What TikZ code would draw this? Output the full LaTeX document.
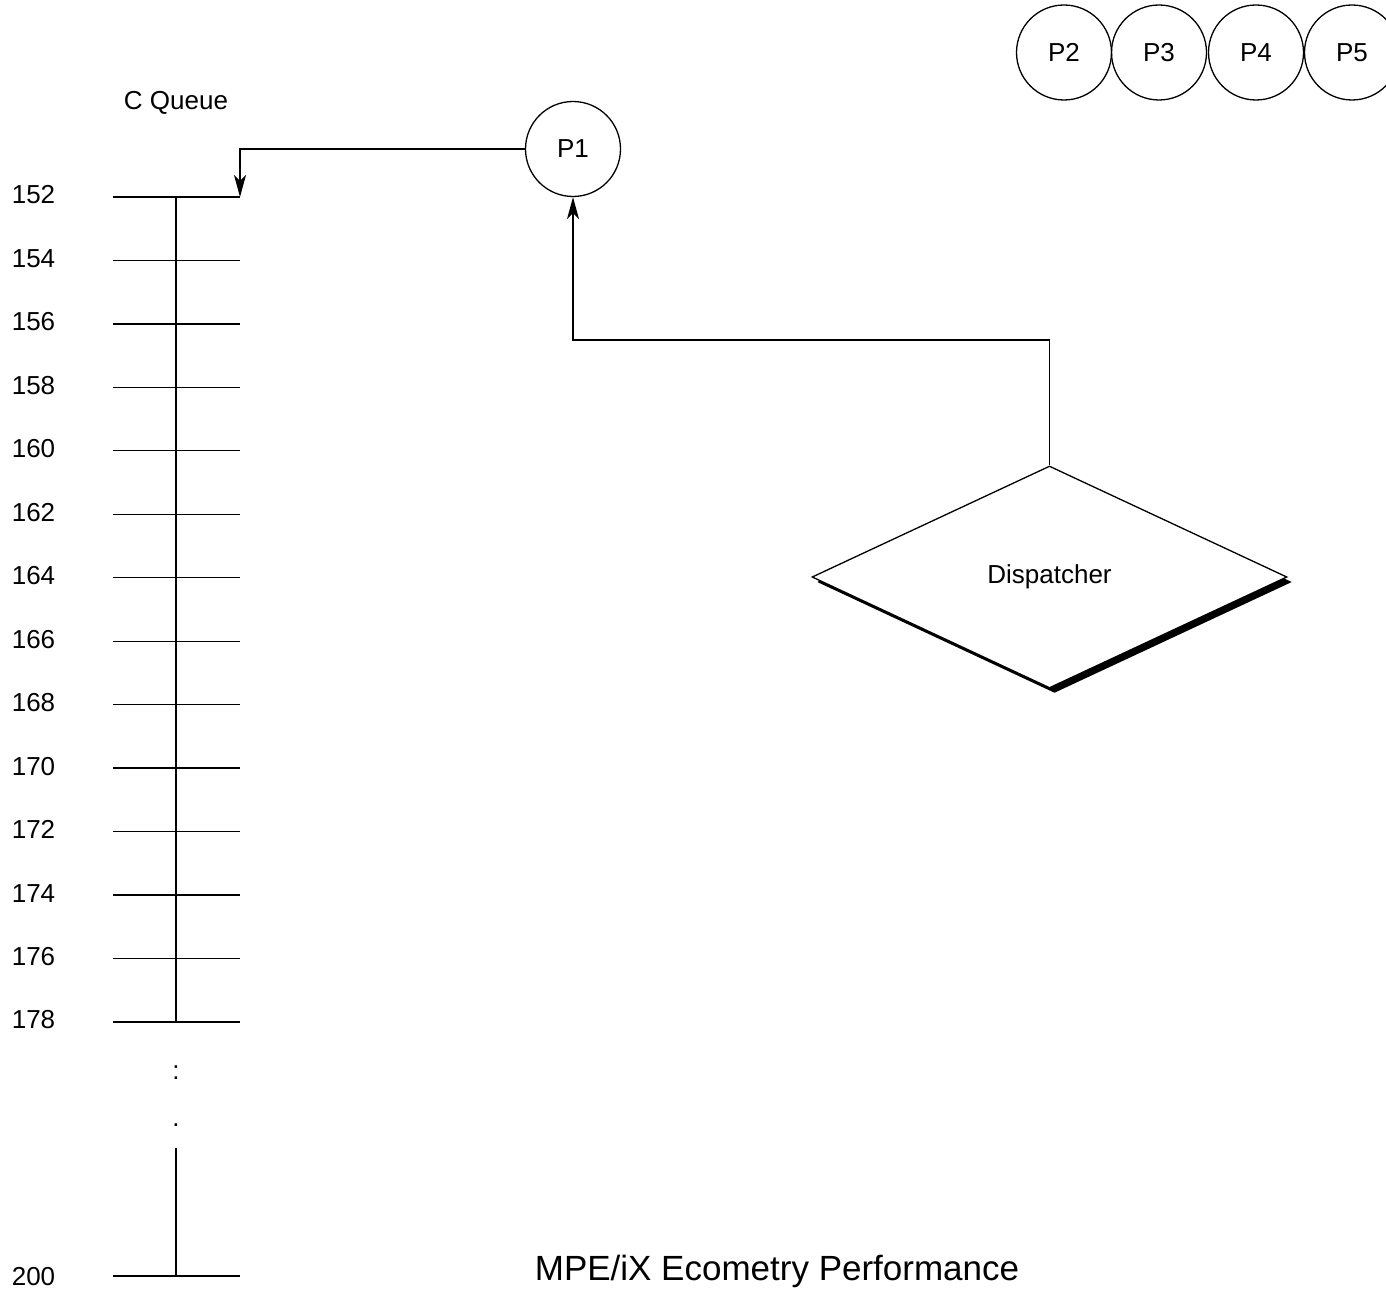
\documentclass[tikz,border=0pt]{standalone}
\usepackage{fontspec}
\setmainfont{Liberation Sans}
\usetikzlibrary{arrows.meta,shapes.geometric}
\begin{document}
\begin{tikzpicture}[x=1pt,y=-1pt,line width=1.3pt,
  lbl/.style={font=\fontsize{26}{31}\selectfont, inner sep=0pt},
  proc/.style={circle, draw, minimum size=95pt, inner sep=0pt, font=\fontsize{26}{31}\selectfont},
  arr/.style={-{Stealth[length=22pt,width=12pt,inset=6pt]}},
  dia/.style={diamond, minimum width=475pt, minimum height=222pt, inner sep=0pt, font=\fontsize{26}{31}\selectfont}]
\clip (0,0) rectangle (1386,1289);

% queue ladder
\node[lbl, anchor=base] (cq) at (176,109.5) {C Queue};
\foreach \v [count=\i from 0] in {152,154,...,178} {
  \pgfmathsetmacro{\yy}{197+\i*63.46}
  \coordinate (tl\v) at (113,\yy);
  \coordinate (tr\v) at (240,\yy);
  \draw (tl\v) -- (tr\v);
  \node[lbl, anchor=base] (l\v) at (33.5,\yy+7) {\v};
}
\coordinate (sp1) at (176,197);
\coordinate (sp2) at (176,1022);
\draw (sp1) -- (sp2);
\node[lbl, anchor=base] (colon) at (176,1079) {:};
\node[lbl, anchor=base] (dot) at (176,1126) {.};
\coordinate (sp3) at (176,1148);
\coordinate (sp4) at (176,1276);
\draw (sp3) -- (sp4);
\coordinate (tl200) at (113,1276);
\coordinate (tr200) at (240,1276);
\draw (tl200) -- (tr200);
\node[lbl, anchor=base] (l200) at (33.5,1285) {200};

% processes
\node[proc] (P1) at (573,149) {P1};
\node[proc] (P2) at (1064,52.5) {P2};
\node[proc] (P3) at (1159,52.5) {P3};
\node[proc] (P4) at (1256,52.5) {P4};
\node[proc] (P5) at (1352,52.5) {P5};

% dispatcher
\node[dia, fill=black] (dshadow) at (1054.5,582) {};
\node[dia, draw, fill=white] (disp) at (1049.5,577) {Dispatcher};

% connectors
\draw[arr] (P1.west) -| (tr152);
\coordinate (bend) at (573,340);
\draw[arr] (disp.north) |- (bend) -- (P1.south);

% title
\node[anchor=base, inner sep=0pt, font=\fontsize{35}{40}\selectfont] (title) at (777,1280) {MPE/iX Ecometry Performance};
\end{tikzpicture}
\end{document}
